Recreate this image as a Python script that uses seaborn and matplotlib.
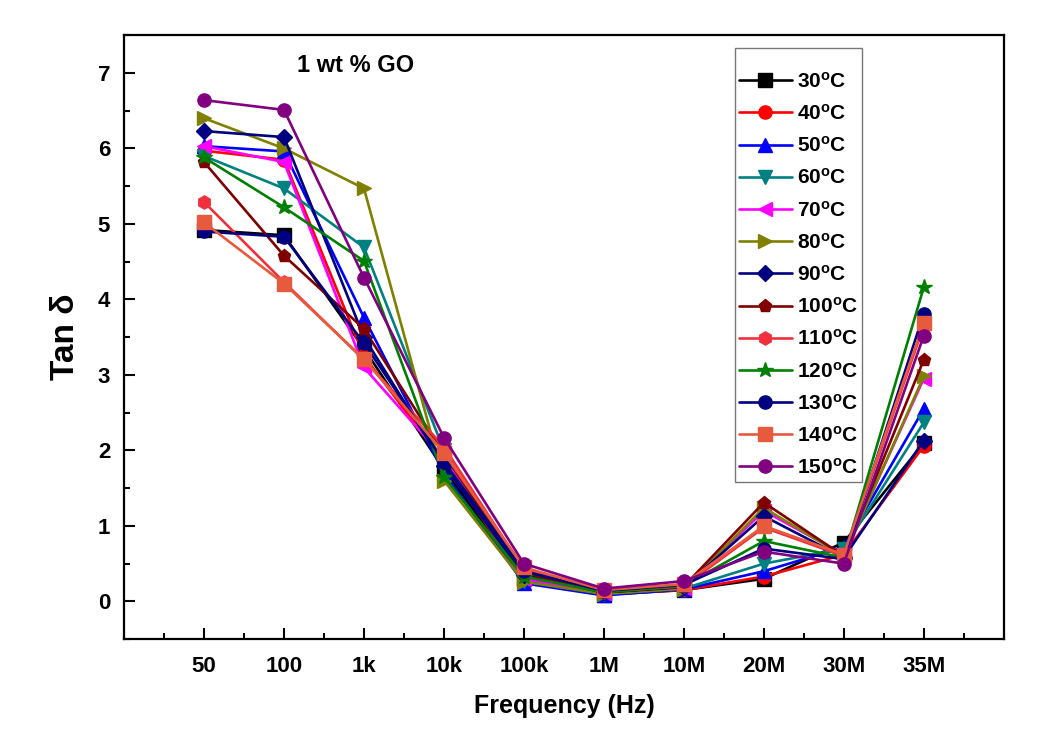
import matplotlib
matplotlib.use("Agg")
import matplotlib.pyplot as plt
from matplotlib.ticker import MultipleLocator
import seaborn as sns
import pandas as pd

# frequency categories (x axis)
freqs = ["50", "100", "1k", "10k", "100k", "1M", "10M", "20M", "30M", "35M"]

temps = [30, 40, 50, 60, 70, 80, 90, 100, 110, 120, 130, 140, 150]

# Tan delta, one list per temperature
t30 = [4.92, 4.85, 3.35, 1.75, 0.30, 0.09, 0.15, 0.30, 0.78, 2.10]
t40 = [5.97, 5.85, 3.25, 1.85, 0.28, 0.10, 0.15, 0.33, 0.62, 2.06]
t50 = [6.03, 5.96, 3.76, 1.70, 0.24, 0.08, 0.16, 0.40, 0.72, 2.55]
t60 = [5.90, 5.47, 4.69, 2.00, 0.27, 0.10, 0.17, 0.50, 0.70, 2.37]
t70 = [6.03, 5.82, 3.10, 1.90, 0.30, 0.11, 0.18, 1.20, 0.62, 2.95]
t80 = [6.40, 6.00, 5.47, 1.60, 0.26, 0.10, 0.17, 1.24, 0.60, 2.98]
t90 = [6.23, 6.15, 3.50, 1.80, 0.35, 0.12, 0.19, 1.13, 0.58, 2.13]
t100 = [5.82, 4.58, 3.61, 1.95, 0.38, 0.12, 0.20, 1.31, 0.60, 3.20]
t110 = [5.29, 4.23, 3.20, 2.05, 0.42, 0.13, 0.20, 0.98, 0.60, 3.65]
t120 = [5.88, 5.22, 4.51, 1.65, 0.33, 0.12, 0.21, 0.80, 0.58, 4.16]
t130 = [4.90, 4.83, 3.42, 1.85, 0.40, 0.14, 0.22, 0.70, 0.56, 3.81]
t140 = [5.02, 4.21, 3.21, 1.97, 0.45, 0.15, 0.23, 1.00, 0.62, 3.69]
t150 = [6.64, 6.51, 4.29, 2.17, 0.50, 0.17, 0.27, 0.66, 0.50, 3.52]

series = [t30, t40, t50, t60, t70, t80, t90, t100, t110, t120, t130, t140, t150]

colors = ["#000000", "#FF0000", "#0000FF", "#008080", "#FF00FF", "#808000", "#000080",
          "#800000", "#F0303C", "#008000", "#000080", "#E85A3E", "#800080"]
marks = ["s", "o", "^", "v", "<", ">", "D", "p", "h", "*", "o", "s", "o"]

labels = [f"{t}$^\\mathregular{{o}}$C" for t in temps]

rows = []
for lab, vals in zip(labels, series):
    for f, v in zip(freqs, vals):
        rows.append({"Frequency": f, "Tan": v, "Temp": lab})
df = pd.DataFrame(rows)

sns.set_style("ticks")
plt.rcParams["font.family"] = ["Liberation Sans", "DejaVu Sans"]
plt.rcParams["font.weight"] = "bold"
plt.rcParams["mathtext.default"] = "regular"
for k in ["text.color", "axes.labelcolor", "xtick.color", "ytick.color", "axes.edgecolor"]:
    plt.rcParams[k] = "black"

fig = plt.figure(figsize=(10.38, 7.33), dpi=100)
ax = fig.add_axes([0.1195, 0.128, 0.8475, 0.824])

sns.lineplot(data=df, x="Frequency", y="Tan", hue="Temp", style="Temp",
             hue_order=labels, style_order=labels,
             palette=dict(zip(labels, colors)), markers=dict(zip(labels, marks)),
             dashes=False, sort=False, legend=False, linewidth=1.9,
             markersize=9.5, ax=ax)

for ln in ax.lines:
    ln.set_markeredgecolor(ln.get_color())
    ln.set_markeredgewidth(1.0)
# star and diamond sizes as in the original
ax.lines[9].set_markersize(11.5)
ax.lines[6].set_markersize(8.5)

ax.set_xlim(-1, 10)
ax.set_ylim(-0.5, 7.5)
ax.yaxis.set_major_locator(MultipleLocator(1))
ax.yaxis.set_minor_locator(MultipleLocator(0.5))
ax.xaxis.set_minor_locator(MultipleLocator(0.5))
ax.tick_params(which="major", direction="in", length=8, width=1.5, labelsize=16)
ax.tick_params(which="minor", direction="in", length=4, width=1.5)
ax.tick_params(axis="x", pad=12)
ax.tick_params(axis="y", pad=10)
for sp in ax.spines.values():
    sp.set_linewidth(1.6)
    sp.set_visible(True)

for t in ax.get_xticklabels() + ax.get_yticklabels():
    t.set_fontweight("bold")

ax.set_xlabel("Frequency (Hz)", fontsize=18, fontweight="bold", labelpad=12)
ax.set_ylabel("Tan δ", fontsize=24, fontweight="bold", labelpad=12)

ax.text(0.197, 0.949, "1 wt % GO", transform=ax.transAxes, fontsize=17,
        fontweight="bold", va="center", ha="left")

leg = ax.legend(handles=ax.lines[:len(labels)], labels=labels, loc="upper left",
                bbox_to_anchor=(0.694, 0.9785), borderaxespad=0, frameon=True,
                fancybox=False, edgecolor="#555555", handlelength=2.55,
                labelspacing=0.585, borderpad=0.2, handletextpad=0.25,
                title=" ", title_fontsize=6,
                prop={"weight": "bold", "size": 15})
leg.get_frame().set_linewidth(1.0)

fig.savefig("out.png", dpi=100)
